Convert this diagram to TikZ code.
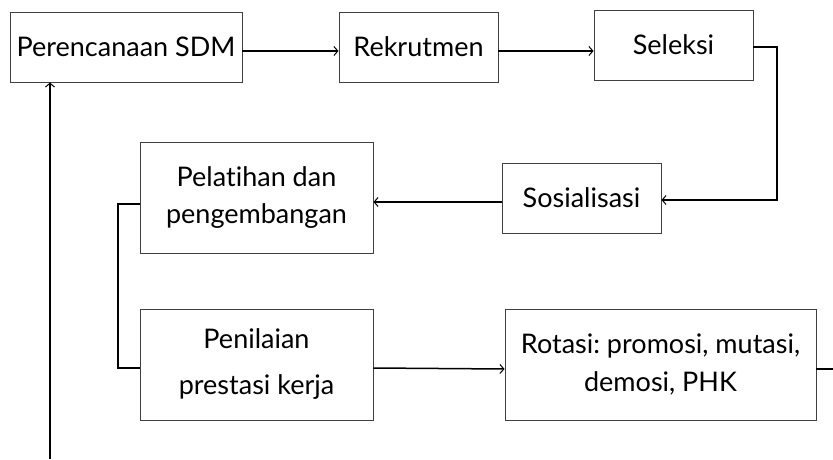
\documentclass[tikz,border=0pt]{standalone}
\usepackage{fontspec}
\setmainfont{Lato}[Ligatures=NoCommon]
\frenchspacing
\usetikzlibrary{calc,arrows.meta}
\begin{document}
\begin{tikzpicture}[x=1pt,y=-1pt,
  box/.style={draw=black!75,line width=0.9pt,inner sep=0pt,align=center,
    font=\fontsize{27}{37}\selectfont},
  conn/.style={line width=1.5pt,black},
  arr/.style={conn,-{Straight Barb[length=4pt,width=9pt,line width=1pt]}}]
\useasboundingbox (0,0) rectangle (833,460);
\node[box,minimum width=232pt,minimum height=70pt] (sdm) at (126,47) {Perencanaan SDM};
\node[box,minimum width=159pt,minimum height=70pt] (rek) at (418.5,47) {Rekrutmen};
\node[box,minimum width=159pt,minimum height=70pt] (sel) at (673.5,45) {Seleksi};
\node[box,minimum width=159pt,minimum height=70pt] (sos) at (581.5,198) {Sosialisasi};
\node[box,minimum width=233pt,minimum height=111pt] (pel) at (256.5,197.5) {Pelatihan dan\\pengembangan};
\node[box,minimum width=233pt,minimum height=111pt,font=\fontsize{27}{46}\selectfont] (pen) at (256.5,364.5) {Penilaian\\prestasi kerja};
\node[box,minimum width=311pt,minimum height=111pt,font=\fontsize{27}{38}\selectfont] (rot) at (660.5,364.5) {Rotasi: promosi, mutasi,\\demosi, PHK};
\coordinate (rend) at (833,369);
\coordinate (lstart) at (50,459);
\draw[arr] ($(sdm.east)+(0,4)$) -- ($(rek.west)+(0,4)$);
\draw[arr] ($(rek.east)+(0,4)$) -- ($(sel.west)+(0,6)$);
\draw[arr] ($(sel.east)+(0,2)$) -| (777,200) -- ($(sos.east)+(0,2)$);
\draw[arr] ($(sos.west)+(0,4)$) -- ($(pel.east)+(0,4.5)$);
\draw[conn] ($(pel.west)+(0,6.5)$) -| (118,368) -- ($(pen.west)+(0,3.5)$);
\draw[arr] ($(pen.east)+(0,3.5)$) -- ($(rot.west)+(0,4.5)$);
\draw[conn] ($(rot.east)+(0,4.5)$) -- (rend);
\draw[arr] (lstart) -- (sdm.south -| lstart);
\end{tikzpicture}
\end{document}
